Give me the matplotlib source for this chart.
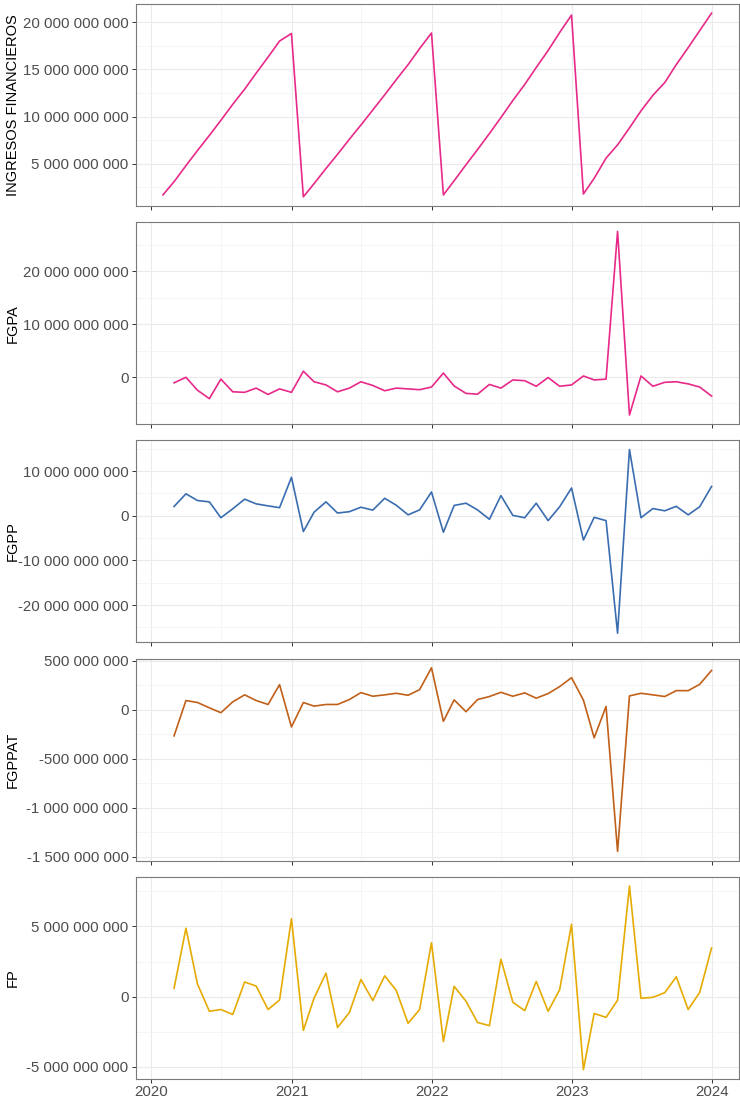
import matplotlib
matplotlib.use("Agg")
import matplotlib.pyplot as plt
import matplotlib.dates as mdates
from matplotlib.ticker import FuncFormatter, MultipleLocator
import pandas as pd
import numpy as np

plt.rcParams['font.family'] = ['Liberation Sans', 'DejaVu Sans']

# ---------------- data ----------------
dates_all = pd.date_range("2020-01-31", periods=48, freq="ME")
dates_diff = dates_all[1:]

ingresos = [1.7, 3.1, 4.8, 6.4, 8.0, 9.6, 11.3, 12.9, 14.6, 16.3, 18.0, 18.8,
            1.5, 2.9, 4.5, 6.0, 7.6, 9.1, 10.7, 12.3, 13.9, 15.5, 17.2, 18.85,
            1.7, 3.2, 4.9, 6.5, 8.2, 9.9, 11.7, 13.4, 15.2, 17.0, 18.9, 20.75,
            1.8, 3.46, 5.6, 7.0, 8.8, 10.6, 12.25, 13.6, 15.5, 17.3, 19.1, 20.95]

fgpa = [-1.1, -0.05, -2.5, -4.1, -0.4, -2.8, -2.9, -2.1, -3.3, -2.25, -2.9,
        1.1, -0.9, -1.5, -2.8, -2.1, -0.9, -1.6, -2.6, -2.1, -2.25, -2.4, -1.9,
        0.75, -1.7, -3.1, -3.25, -1.4, -2.1, -0.55, -0.7, -1.75, -0.1, -1.75, -1.5,
        0.2, -0.55, -0.4, 27.6, -7.2, 0.2, -1.75, -1.0, -0.9, -1.3, -1.9, -3.6]

fgpp = [2.07, 4.9, 3.4, 3.1, -0.45, 1.55, 3.7, 2.65, 2.2, 1.8, 8.6,
        -3.55, 0.8, 3.1, 0.6, 0.9, 1.9, 1.25, 3.9, 2.35, 0.2, 1.3, 5.3,
        -3.7, 2.3, 2.8, 1.3, -0.8, 4.5, 0.07, -0.45, 2.8, -1.1, 2.0, 6.2,
        -5.45, -0.37, -1.1, -26.3, 14.8, -0.45, 1.6, 1.1, 2.1, 0.2, 2.0, 6.55]

fgppat = [-266, 94, 74, 20, -30, 81, 152, 94, 54, 256, -175,
          74, 37, 54, 54, 104, 175, 138, 152, 168, 148, 205, 428,
          -118, 101, -20, 104, 135, 178, 138, 172, 118, 165, 236, 327,
          98, -286, 34, -1444, 141, 168, 152, 135, 195, 195, 259, 401]

fp = [0.59, 4.87, 0.9, -1.04, -0.92, -1.27, 1.04, 0.75, -0.92, -0.24, 5.55,
      -2.4, -0.1, 1.67, -2.2, -1.13, 1.22, -0.28, 1.48, 0.45, -1.9, -0.92, 3.84,
      -3.2, 0.73, -0.33, -1.84, -2.07, 2.66, -0.4, -1.0, 1.08, -1.04, 0.49, 5.15,
      -5.2, -1.2, -1.48, -0.26, 7.88, -0.12, -0.05, 0.28, 1.41, -0.92, 0.3, 3.46]

labels = ["INGRESOS FINANCIEROS", "FGPA", "FGPP", "FGPPAT", "FP"]
series = [np.array(ingresos) * 1e9, np.array(fgpa) * 1e9, np.array(fgpp) * 1e9,
          np.array(fgppat) * 1e6, np.array(fp) * 1e9]
xdates = [dates_all, dates_diff, dates_diff, dates_diff, dates_diff]
colors = ["#E7298A", "#E7298A", "#3A6DB0", "#C0601A", "#E6AB02"]
ysteps = [5e9, 10e9, 10e9, 500e6, 5e9]

# ---------------- layout ----------------
W, H = 740, 1099
fig = plt.figure(figsize=(W / 100, H / 100), dpi=100)
left_px, right_px = 135.5, 739
tops = [4, 222.2, 440.4, 658.6, 876.8]
ph = 202

def fmt(v, pos):
    s = f"{int(round(v)):,}".replace(",", " ")
    return s

xnum = mdates.date2num(dates_all.to_pydatetime())
span = xnum[-1] - xnum[0]
xlim = (xnum[0] - 0.05 * span, xnum[-1] + 0.05 * span)

for i in range(5):
    ax = fig.add_axes([left_px / W, 1 - (tops[i] + ph) / H,
                       (right_px - left_px) / W, ph / H])
    ax.plot(xdates[i].to_pydatetime(), series[i], color=colors[i], lw=1.2,
            solid_joinstyle="round", zorder=3)
    ax.set_xlim(xlim)
    ax.margins(y=0.05)
    ax.yaxis.set_major_locator(MultipleLocator(ysteps[i]))
    ax.yaxis.set_minor_locator(MultipleLocator(ysteps[i] / 2))
    ax.yaxis.set_major_formatter(FuncFormatter(fmt))
    ax.xaxis.set_major_locator(mdates.YearLocator())
    ax.xaxis.set_minor_locator(mdates.MonthLocator(bymonth=7))
    ax.xaxis.set_major_formatter(mdates.DateFormatter("%Y"))
    ax.grid(which="major", color="#EBEBEB", lw=0.8, zorder=0)
    ax.grid(which="minor", color="#F2F2F2", lw=0.5, zorder=0)
    ax.set_axisbelow(True)
    for sp in ax.spines.values():
        sp.set_color("#7A7A7A")
        sp.set_linewidth(0.8)
    ax.tick_params(which="major", length=3, width=0.7, color="#333333",
                   labelsize=10.8, labelcolor="#4D4D4D", pad=2)
    ax.tick_params(axis="x", which="major", pad=1.5)
    ax.tick_params(which="minor", length=0)
    if i < 4:
        ax.tick_params(axis="x", labelbottom=False)
    ax.set_ylabel(labels[i], fontsize=10.5, color="black")
    ax.yaxis.set_label_coords((20 - left_px) / (right_px - left_px), 0.5)

fig.savefig("out.png", dpi=100)
